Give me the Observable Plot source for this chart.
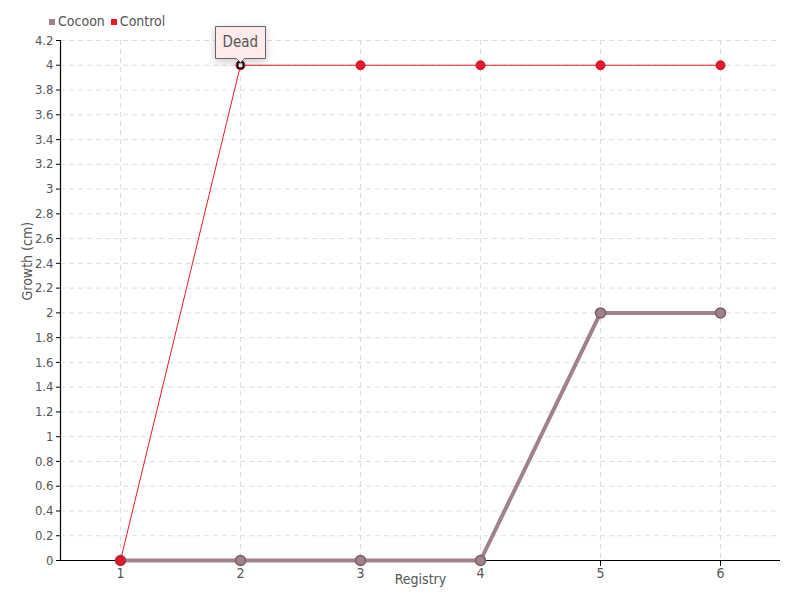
<!DOCTYPE html>
<html>
<head>
<meta charset="utf-8">
<script src="https://cdn.jsdelivr.net/npm/d3@7"></script>
<script src="https://cdn.jsdelivr.net/npm/@observablehq/plot@0.6"></script>
<style>
  body { margin: 0; background: #fff; font-family: "DejaVu Sans Condensed", sans-serif; }
  #wrap { position: relative; width: 800px; height: 600px; }
  #legend { position: absolute; left: 49px; top: 13px; font-size: 14px; color: #555; display: flex; gap: 6px; align-items: center; }
  #legend span.sw { display: inline-block; width: 6px; height: 6px; margin-right: 3px; vertical-align: middle; }
</style>
</head>
<body>
<div id="wrap">
  <div id="legend"></div>
</div>
<script>
const registry = [1, 2, 3, 4, 5, 6];
const cocoon = [0, 0, 0, 0, 2, 2];
const control = [0, 4, 4, 4, 4, 4];
const seriesNames = ["Cocoon", "Control"];
const seriesColors = ["#a0828a", "#e8192c"];
const yTicks = [0, 0.2, 0.4, 0.6, 0.8, 1, 1.2, 1.4, 1.6, 1.8, 2, 2.2, 2.4, 2.6, 2.8, 3, 3.2, 3.4, 3.6, 3.8, 4, 4.2];
const xDomain = [0.5, 6.5];
const yDomain = [0, 4.2];
const annotation = [{x: 2, y: 4, label: "Dead"}];

const cocoonData = registry.map((r, i) => ({x: r, y: cocoon[i]}));
const controlData = registry.map((r, i) => ({x: r, y: control[i]}));

const legend = document.getElementById("legend");
seriesNames.forEach((n, i) => {
  const d = document.createElement("div");
  d.innerHTML = `<span class="sw" style="background:${seriesColors[i]}"></span>${n}`;
  legend.appendChild(d);
});

const fmt = d => String(d);
const font = '"DejaVu Sans Condensed", sans-serif';

const chart = Plot.plot({
  width: 800,
  height: 600,
  marginLeft: 60,
  marginRight: 20,
  marginTop: 40,
  marginBottom: 40,
  style: {fontFamily: font, fontSize: "14px", color: "#555", background: "transparent"},
  x: {domain: xDomain},
  y: {domain: yDomain},
  marks: [
    Plot.gridY(yTicks, {stroke: "#ddd", strokeOpacity: 1, strokeDasharray: "5,4"}),
    Plot.gridX(registry, {stroke: "#ddd", strokeOpacity: 1, strokeDasharray: "5,4"}),
    Plot.axisY(yTicks, {tickSize: 4, tickPadding: 3, stroke: "#000", label: null, fontSize: 13, tickFormat: fmt}),
    Plot.axisX(registry, {tickSize: 6, tickPadding: 2, stroke: "#000", label: null, fontSize: 14, tickFormat: fmt}),
    Plot.text(["Registry"], {frameAnchor: "bottom", dy: 23, fontSize: 14, fill: "#555"}),
    Plot.text(["Growth (cm)"], {frameAnchor: "left", dx: -33, rotate: -90, fontSize: 14, fill: "#555"}),
    Plot.ruleY([yDomain[0]], {stroke: "#000", strokeWidth: 1.2}),
    Plot.ruleX([xDomain[0]], {stroke: "#000", strokeWidth: 1.2}),
    Plot.line(cocoonData, {x: "x", y: "y", stroke: seriesColors[0], strokeWidth: 4}),
    Plot.dot(cocoonData, {x: "x", y: "y", r: 5, fill: seriesColors[0], stroke: "#7a5e64", strokeWidth: 1.5}),
    Plot.line(controlData, {x: "x", y: "y", stroke: seriesColors[1], strokeWidth: 1}),
    Plot.dot(controlData, {x: "x", y: "y", r: 4.5, fill: seriesColors[1], stroke: "#c81020", strokeWidth: 1}),
    Plot.dot(annotation, {x: "x", y: "y", symbol: "square", r: 3, fill: "#fff", stroke: "#000", strokeWidth: 1.5}),
    Plot.tip(annotation, {x: "x", y: "y", title: "label", anchor: "bottom", fill: "#fdeaea", stroke: "#666", fontSize: 15, textPadding: 7, pointerSize: 8, dy: -3})
  ]
});
document.getElementById("wrap").appendChild(chart);
</script>
</body>
</html>
